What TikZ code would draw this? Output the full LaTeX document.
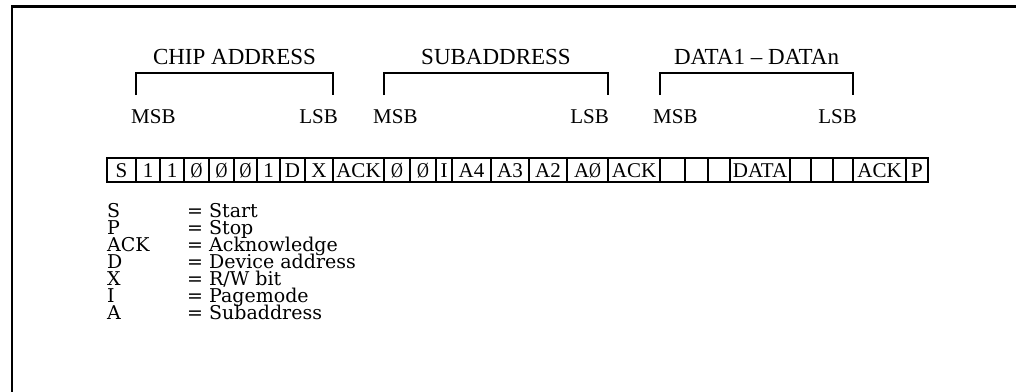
\documentclass[tikz,border=0pt]{standalone}
\usepackage{fontspec}
\setmainfont{Liberation Serif}
\newfontfamily\legendfont{DejaVu Serif}
\usetikzlibrary{calc}
\newcommand\slz{\scalebox{0.78}[1]{Ø}}
\begin{document}
\begin{tikzpicture}[x=1pt,y=-1pt,
  cell/.style={draw, line width=1.1pt, inner sep=0pt, outer sep=0pt,
    minimum height=24pt, font=\fontsize{21}{21}\selectfont,
    text height=14pt, text depth=0pt},
  ttl/.style={font=\fontsize{23}{23}\selectfont, anchor=base, inner sep=0pt},
  bit/.style={font=\fontsize{21}{21}\selectfont, inner sep=0pt},
  leg/.style={font=\legendfont\fontsize{19}{19}\selectfont, anchor=base west,
    inner sep=0pt, text height=13pt, text depth=3pt},
  brk/.style={line width=1.1pt},
  frm/.style={line width=2.5pt}]
\useasboundingbox (0,0) rectangle (1016,391);
% frame
\coordinate (f1) at (12,400);
\coordinate (f2) at (12,6.5);
\coordinate (f3) at (1030,6.5);
\draw[frm] (f1) -- (f2) -- (f3);
% cells
\foreach \l/\r/\n/\t in {107/136/c1/S, 136/160/c2/1, 160/184/c3/1, 184/209/c4/\slz,
  209/234/c5/\slz, 234/257/c6/\slz, 257/280/c7/1, 280/305/c8/D, 305/333/c9/X,
  333/384/c10/ACK, 384/410/c11/\slz, 410/436/c12/\slz, 436/452/c13/I,
  452/491/c14/A4, 491/529/c15/A3, 529/567/c16/A2, 567/608/c17/A\slz,
  608/660/c18/ACK, 660/685/c19/{}, 685/708/c20/{}, 708/730/c21/{},
  730/790/c22/DATA, 790/811/c23/{}, 811/833/c24/{}, 833/853/c25/{},
  853/906/c26/ACK, 906/928/c27/P}
  \node[cell, minimum width={(\r-\l)*1pt}] (\n) at ({(\l+\r)/2},170) {\t};
% brackets
\coordinate (bt) at (0,73);
\coordinate (bb) at (0,95);
\draw[brk] (c2.north west |- bb) -- (c2.north west |- bt) -- (c9.north east |- bt) -- (c9.north east |- bb);
\draw[brk] (c11.north west |- bb) -- (c11.north west |- bt) -- (c17.north east |- bt) -- (c17.north east |- bb);
\draw[brk] (c19.north west |- bb) -- (c19.north west |- bt) -- (c25.north east |- bt) -- (c25.north east |- bb);
% titles
\coordinate (tb) at (0,64);
\path (c2.north west) -- (c9.north east) coordinate[pos=0.5] (m1);
\path (c11.north west) -- (c17.north east) coordinate[pos=0.5] (m2);
\path (c19.north west) -- (c25.north east) coordinate[pos=0.5] (m3);
\node[ttl] (t1) at (m1 |- tb) {CHIP ADDRESS};
\node[ttl] (t2) at (m2 |- tb) {SUBADDRESS};
\node[ttl] (t3) at (m3 |- tb) {DATA1 – DATAn};
% MSB / LSB
\node[bit, anchor=base west] (msb1) at (131,123) {MSB};
\node[bit, anchor=base east] (lsb1) at (338,123) {LSB};
\node[bit, anchor=base west] (msb2) at (373,123) {MSB};
\node[bit, anchor=base east] (lsb2) at (609,123) {LSB};
\node[bit, anchor=base west] (msb3) at (653,123) {MSB};
\node[bit, anchor=base east] (lsb3) at (857,123) {LSB};
% legend
\node[leg] (k1) at (107,217) {S};   \node[leg] (v1) at (187,217) {= Start};
\node[leg] (k2) at (107,234) {P};   \node[leg] (v2) at (187,234) {= Stop};
\node[leg] (k3) at (107,251) {ACK}; \node[leg] (v3) at (187,251) {= Acknowledge};
\node[leg] (k4) at (107,268) {D};   \node[leg] (v4) at (187,268) {= Device address};
\node[leg] (k5) at (107,285) {X};   \node[leg] (v5) at (187,285) {= R/W bit};
\node[leg] (k6) at (107,302) {I};   \node[leg] (v6) at (187,302) {= Pagemode};
\node[leg] (k7) at (107,319) {A};   \node[leg] (v7) at (187,319) {= Subaddress};
\end{tikzpicture}
\end{document}
